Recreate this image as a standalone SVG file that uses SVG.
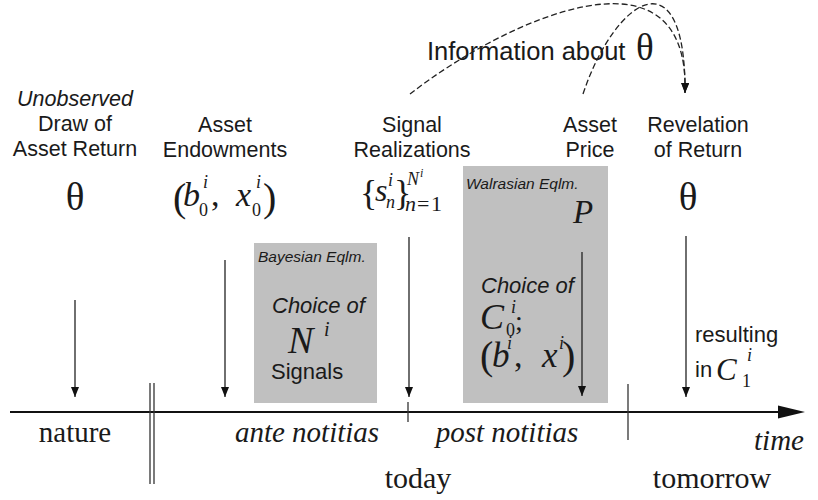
<svg xmlns="http://www.w3.org/2000/svg" width="818" height="500" viewBox="0 0 818 500">
<style>
.sans{font-family:"Liberation Sans",Arial,sans-serif;fill:#1a1a1a}
.serif{font-family:"Liberation Serif","Times New Roman",serif;fill:#1a1a1a}
.lab{font-size:21.5px;text-anchor:middle}
.it{font-style:italic}
.box{fill:#c0c0c0;stroke:none}
.arr{stroke:#222;stroke-width:1.3;fill:none;marker-end:url(#ah)}
.dash{stroke:#222;stroke-width:1.3;fill:none;stroke-dasharray:6,3}
.ln{stroke:#333;stroke-width:1.3;fill:none}
.sub{font-size:18px}
</style>
<defs>
<marker id="ah" markerUnits="userSpaceOnUse" markerWidth="11" markerHeight="9" refX="10" refY="4" orient="auto">
<path d="M0,0 L10,4 L0,8 z" fill="#111" stroke="none"/>
</marker>
</defs>
<rect width="818" height="500" fill="#fff"/>

<g id="bayesian-box">
<rect class="box" x="254" y="243" width="123" height="160"/>
<text class="sans it" x="258" y="262" font-size="15.5">Bayesian Eqlm.</text>
<text class="sans it" x="272" y="313" font-size="22">Choice of</text>
<text class="serif it" x="288" y="353" font-size="38">N</text>
<text class="serif it" x="324" y="336" font-size="20">i</text>
<text class="sans" x="271" y="379" font-size="22">Signals</text>
</g>

<g id="walrasian-box">
<rect class="box" x="463" y="166" width="145" height="237"/>
<text class="sans it" x="466" y="189" font-size="15.5">Walrasian Eqlm.</text>
<text class="serif it" x="573" y="223" font-size="33">P</text>
<text class="sans it" x="481" y="293" font-size="22">Choice of</text>
<text class="serif it" x="480" y="329" font-size="36">C</text>
<text class="serif it sub" x="511" y="313">i</text>
<text class="serif sub" x="506" y="336">0</text>
<text class="serif" x="515" y="330" font-size="28">;</text>
<text class="serif" x="480" y="369" font-size="40">(</text>
<text class="serif it" x="492" y="367" font-size="35">b</text>
<text class="serif it sub" x="507" y="349">i</text>
<text class="serif" x="514" y="367" font-size="34">,</text>
<text class="serif it" x="542" y="367" font-size="35">x</text>
<text class="serif it sub" x="559" y="349">i</text>
<text class="serif" x="562" y="369" font-size="40">)</text>
</g>

<g id="nature-draw">
<text class="sans lab it" x="75" y="106">Unobserved</text>
<text class="sans lab" x="75" y="131">Draw of</text>
<text class="sans lab" x="75" y="156">Asset Return</text>
<text class="serif" x="75" y="210" font-size="39" text-anchor="middle">θ</text>
</g>

<g id="endowments">
<text class="sans lab" x="225" y="132">Asset</text>
<text class="sans lab" x="225" y="157">Endowments</text>
<text class="serif" x="173" y="211" font-size="40">(</text>
<text class="serif it" x="183" y="206" font-size="34">b</text>
<text class="serif it sub" x="203" y="188">i</text>
<text class="serif sub" x="199" y="216">0</text>
<text class="serif" x="211" y="206" font-size="34">,</text>
<text class="serif it" x="236" y="206" font-size="34">x</text>
<text class="serif it sub" x="256" y="188">i</text>
<text class="serif sub" x="252" y="216">0</text>
<text class="serif" x="263" y="211" font-size="40">)</text>
</g>

<g id="signals">
<text class="sans lab" x="412" y="132">Signal</text>
<text class="sans lab" x="412" y="157">Realizations</text>
<text class="serif" x="360" y="205" font-size="36">{</text>
<text class="serif it" x="375" y="201" font-size="32">s</text>
<text class="serif it sub" x="388" y="186">i</text>
<text class="serif it sub" x="386" y="208">n</text>
<text class="serif" x="394" y="205" font-size="36">}</text>
<text class="serif it sub" x="407" y="185">N</text>
<text class="serif it" x="420" y="177" font-size="12">i</text>
<text class="serif it" x="405" y="211" font-size="22">n</text>
<text class="serif" x="417" y="211" font-size="22">=</text>
<text class="serif" x="431" y="211" font-size="22">1</text>
</g>

<g id="price">
<text class="sans lab" x="590" y="132">Asset</text>
<text class="sans lab" x="590" y="157">Price</text>
</g>

<g id="revelation">
<text class="sans lab" x="698" y="132">Revelation</text>
<text class="sans lab" x="698" y="157">of Return</text>
<text class="serif" x="688" y="210" font-size="39" text-anchor="middle">θ</text>
<text class="sans" x="695" y="342" font-size="22">resulting</text>
<text class="sans" x="695" y="377" font-size="22">in</text>
<text class="serif it" x="716" y="380" font-size="31">C</text>
<text class="serif it sub" x="747" y="361">i</text>
<text class="serif sub" x="742" y="387">1</text>
</g>

<g id="information">
<text class="sans" x="427" y="60" font-size="25.5">Information about</text>
<text class="serif" x="636" y="60" font-size="37">θ</text>
</g>

<g id="timeline">
<line x1="10" y1="412" x2="782" y2="412" stroke="#111" stroke-width="2"/>
<path d="M778,405.5 L805,412 L778,418.5 z" fill="#111"/>
<line class="ln" x1="150" y1="383" x2="150" y2="484"/>
<line class="ln" x1="154" y1="383" x2="154" y2="484"/>
<line class="ln" x1="408" y1="402" x2="408" y2="422"/>
<line class="ln" x1="628" y1="384" x2="628" y2="440"/>
<text class="serif" x="75" y="442" font-size="29" text-anchor="middle">nature</text>
<text class="serif it" x="307" y="442" font-size="29" text-anchor="middle">ante notitias</text>
<text class="serif it" x="507" y="442" font-size="29" text-anchor="middle">post notitias</text>
<text class="serif it" x="804" y="450" font-size="29" text-anchor="end">time</text>
<text class="serif" x="418" y="488" font-size="30" text-anchor="middle">today</text>
<text class="serif" x="712" y="488" font-size="30" text-anchor="middle">tomorrow</text>
</g>

<g id="connectors">
<line class="arr" x1="75" y1="300" x2="75" y2="397"/>
<line class="arr" x1="225" y1="260" x2="225" y2="397"/>
<line class="arr" x1="409" y1="237" x2="409" y2="397"/>
<line class="arr" x1="582" y1="252" x2="582" y2="396"/>
<line class="arr" x1="686" y1="236" x2="686" y2="397"/>
<path class="dash" d="M410,94 C505,20 690,-65 685,93" marker-end="url(#ah)"/>
<path class="dash" d="M583,94 C615,-2 686,-48 685,93" marker-end="url(#ah)"/>
</g>
</svg>
